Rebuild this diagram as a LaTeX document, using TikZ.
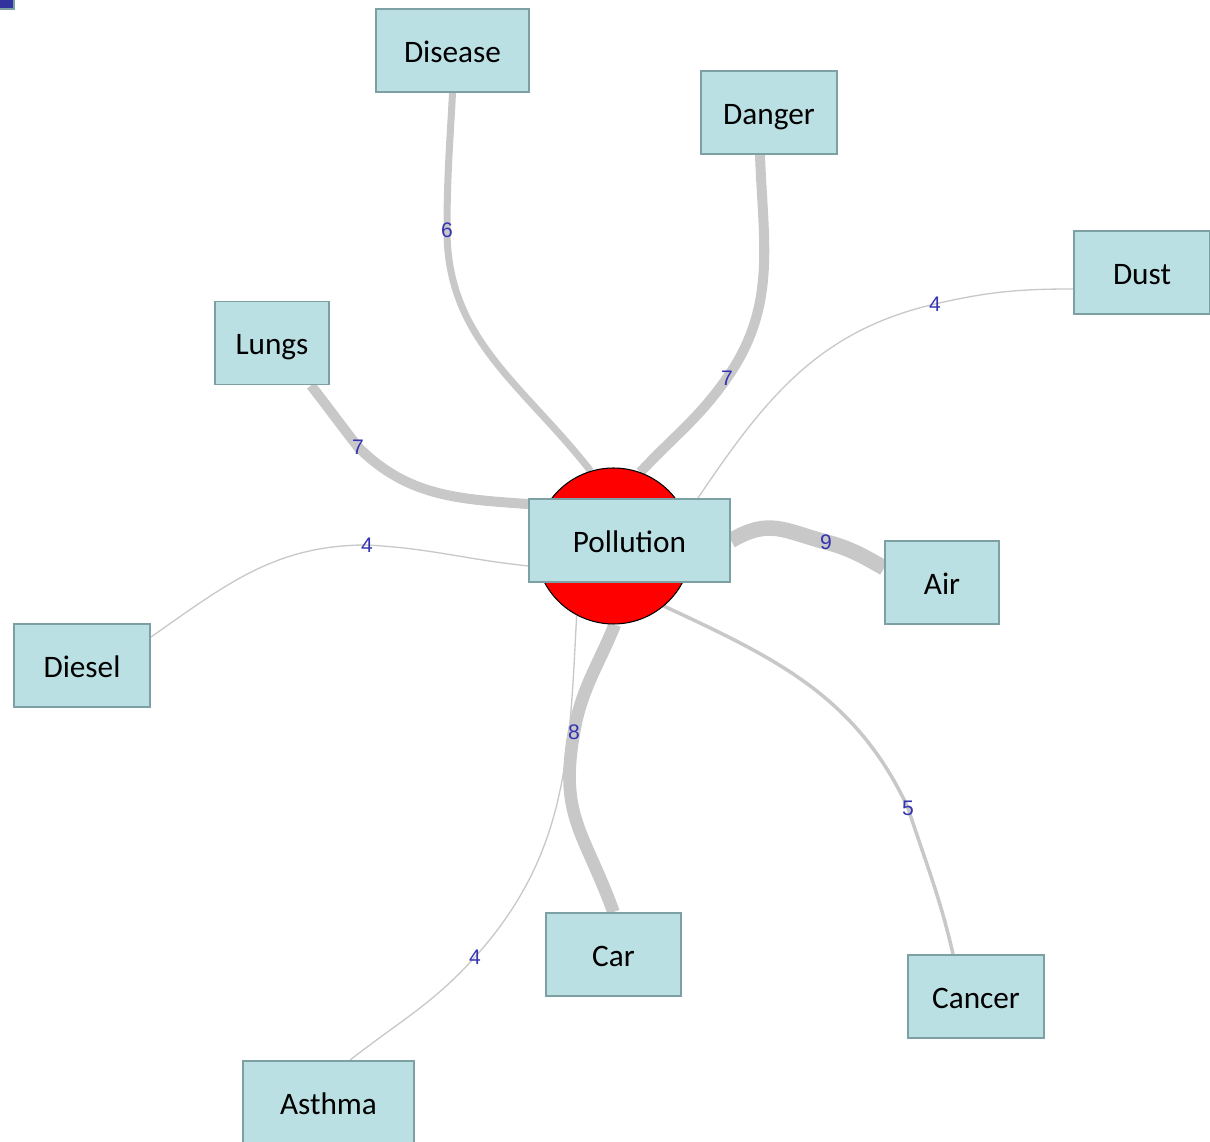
\documentclass[tikz,border=0pt]{standalone}
\usepackage{fontspec}
\setmainfont{Carlito}
\newfontfamily\wtfont{Liberation Sans}
\usetikzlibrary{shapes,backgrounds}
\definecolor{box_blue}{RGB}{187,224,227}
\definecolor{box_edge}{RGB}{124,160,164}
\definecolor{edge_grey}{RGB}{200,200,200}
\definecolor{wt_blue}{RGB}{52,52,178}
\definecolor{corner_blue}{RGB}{51,51,160}
\tikzstyle{wn}=[rectangle,fill=box_blue,draw=box_edge,line width=1.1pt,
  minimum height=1.66cm,inner sep=0pt,text height=0.48cm,text depth=0cm,
  font=\fontsize{17.8}{21}\selectfont]
\tikzstyle{hub}=[circle,fill=red,draw=black,line width=0.6pt,
  minimum size=3.12cm,inner sep=0pt]
\tikzstyle{wt}=[inner sep=0pt,text=wt_blue,font=\wtfont\fontsize{12}{14}\selectfont]
\tikzstyle{e4}=[draw=edge_grey,line width=0.75pt]
\tikzstyle{e5}=[draw=edge_grey,line width=2pt]
\tikzstyle{e6}=[draw=edge_grey,line width=4pt]
\tikzstyle{e7}=[draw=edge_grey,line width=5.7pt]
\tikzstyle{e8}=[draw=edge_grey,line width=7.2pt]
\tikzstyle{e9}=[draw=edge_grey,line width=8.8pt]

\begin{document}
\begin{tikzpicture}[x=0.02cm,y=0.02cm]
    \useasboundingbox (0,0) rectangle (1210,1142);
    \draw [fill=corner_blue,draw=box_edge,line width=1.1pt] (-10,1133) rectangle (14,1152);
        \node [style=hub] (polc) at (613.5,596) {};
        \node [style=wn,minimum width=4.02cm] (pol) at (629.5,601.5) {Pollution};
        \node [style=wn,minimum width=3.06cm] (disease) at (452.5,1091.5) {Disease};
        \node [style=wn,minimum width=2.72cm] (danger) at (769,1029.5) {Danger};
        \node [style=wn,minimum width=2.72cm] (dust) at (1142,869.5) {Dust};
        \node [style=wn,minimum width=2.28cm] (lungs) at (272,799) {Lungs};
        \node [style=wn,minimum width=2.28cm] (air) at (942,559.5) {Air};
        \node [style=wn,minimum width=2.72cm] (diesel) at (82,476.5) {Diesel};
        \node [style=wn,minimum width=2.7cm] (car) at (613.5,187.5) {Car};
        \node [style=wn,minimum width=2.72cm] (cancer) at (976,145.5) {Cancer};
        \node [style=wn,minimum width=3.42cm] (asthma) at (328.5,39.5) {Asthma};
        \node [style=wt] (w6) at (447,912) {6};
        \node [style=wt] (w7a) at (727,764) {7};
        \node [style=wt] (w4u) at (935,838) {4};
        \node [style=wt] (w7b) at (358,695) {7};
        \node [style=wt] (w9) at (826,600) {9};
        \node [style=wt] (w4d) at (367,597) {4};
        \node [style=wt] (w8) at (574,410) {8};
        \node [style=wt] (w4a) at (475,185) {4};
        \node [style=wt] (w5) at (908,334) {5};
    \begin{scope}[on background layer]
        \draw [style=e6] (disease.south) to[out=-93,in=90] (w6.center) to[out=-90,in=128] (polc.107);
        \draw [style=e7] ([xshift=-0.18cm]danger.south) to[out=-88,in=55] (w7a.center) to[out=-125,in=47] (polc.70);
        \draw [style=e4] ([yshift=-0.33cm]dust.west) to[out=180,in=13] (w4u.center) to[out=-167,in=56] ([xshift=-0.66cm]pol.north east);
        \draw [style=e7] ([xshift=-0.38cm]lungs.south east) to[out=-52,in=128] (w7b.center) to[out=-45,in=176] ([yshift=-0.12cm]pol.north west);
        \draw [style=e9] (pol.east) to[out=30,in=165,looseness=1.2] (w9.center) to[out=-15,in=150] ([yshift=0.29cm]air.west);
        \draw [style=e4] ([yshift=-0.28cm]diesel.north east) to[out=35,in=180] (w4d.center) to[out=-3,in=174] ([yshift=0.34cm]pol.south west);
        \draw [style=e8] (polc.-89) to[out=-112,in=80] (w8.center) to[out=-100,in=110,looseness=1.2] (car.north);
        \draw [style=e4] (polc.-118) to[out=-93,in=48] (w4a.center) to[out=-132,in=38] ([xshift=0.43cm]asthma.north);
        \draw [style=e5] (polc.-50) to[out=-25,in=115] (w5.center) to[out=-72,in=103] ([xshift=-0.46cm]cancer.north);
    \end{scope}
\end{tikzpicture}
\end{document}
